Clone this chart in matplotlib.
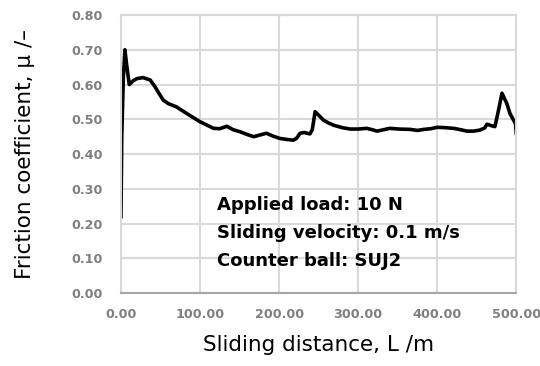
import matplotlib
matplotlib.use("Agg")
import matplotlib.pyplot as plt

# Friction curve
distance = [0, 1, 3, 5, 7, 10.5, 15, 20, 28, 37, 43, 48, 53.6, 60, 70, 83, 100,
            110, 117, 125, 134, 142, 151, 160, 168, 176, 184, 192, 201, 210, 218,
            222, 226.6, 232, 239, 242, 245.6, 250, 256, 262, 269, 280, 290, 300,
            311, 318, 324, 332, 340, 352, 366, 375, 383, 392, 400, 410, 421, 430,
            437.6, 446, 454, 460, 463, 468, 473, 477, 482, 485, 488, 492, 496, 499, 500]
friction = [0.22, 0.45, 0.62, 0.70, 0.66, 0.60, 0.61, 0.617, 0.62, 0.613, 0.594, 0.575, 0.555,
            0.545, 0.536, 0.517, 0.493, 0.482, 0.474, 0.473, 0.48, 0.47, 0.464, 0.456, 0.45,
            0.455, 0.46, 0.452, 0.445, 0.442, 0.44, 0.445, 0.46, 0.462, 0.458, 0.47, 0.522,
            0.512, 0.498, 0.49, 0.483, 0.476, 0.472, 0.472, 0.474, 0.47, 0.466, 0.47, 0.474,
            0.472, 0.471, 0.468, 0.471, 0.473, 0.477, 0.476, 0.474, 0.47, 0.466, 0.466,
            0.469, 0.475, 0.486, 0.482, 0.479, 0.52, 0.575, 0.56, 0.546, 0.517, 0.50, 0.488, 0.46]

x_ticks = [0, 100, 200, 300, 400, 500]
y_ticks = [0.0, 0.1, 0.2, 0.3, 0.4, 0.5, 0.6, 0.7, 0.8]
conditions = ["Applied load: 10 N", "Sliding velocity: 0.1 m/s", "Counter ball: SUJ2"]

plt.rcParams['font.family'] = ['DejaVu Sans']

fig = plt.figure(figsize=(5.4, 3.66), dpi=100)
ax = fig.add_axes([0.224, 0.199, 0.732, 0.760])

ax.plot(distance, friction, color='black', linewidth=2.6)

ax.set_xlim(0, 500)
ax.set_ylim(0, 0.8)
ax.set_xticks(x_ticks)
ax.set_yticks(y_ticks)
ax.set_xticklabels([f"{v:.2f}" for v in x_ticks])
ax.set_yticklabels([f"{v:.2f}" for v in y_ticks])
ax.tick_params(length=0, labelsize=9.2, labelcolor='#7f7f7f')
ax.tick_params(axis='x', pad=11)
ax.tick_params(axis='y', pad=13)
for lab in ax.get_xticklabels() + ax.get_yticklabels():
    lab.set_fontweight('bold')

ax.grid(True, color='#d9d9d9', linewidth=1.5)
ax.set_axisbelow(True)
for side in ['top', 'right', 'left']:
    ax.spines[side].set_color('#d9d9d9')
    ax.spines[side].set_linewidth(1.5)
ax.spines['bottom'].set_color('#a6a6a6')
ax.spines['bottom'].set_linewidth(1.5)

ax.set_xlabel('Sliding distance, L /m', fontsize=15.5, labelpad=10)
ax.set_ylabel('Friction coefficient, μ /–', fontsize=15.5, labelpad=26)

for i, txt in enumerate(conditions):
    ax.text(0.242, 0.317 - i * 0.1, txt, transform=ax.transAxes, fontsize=13,
            fontweight='bold', va='center', ha='left')

fig.savefig('out.png', dpi=100)
